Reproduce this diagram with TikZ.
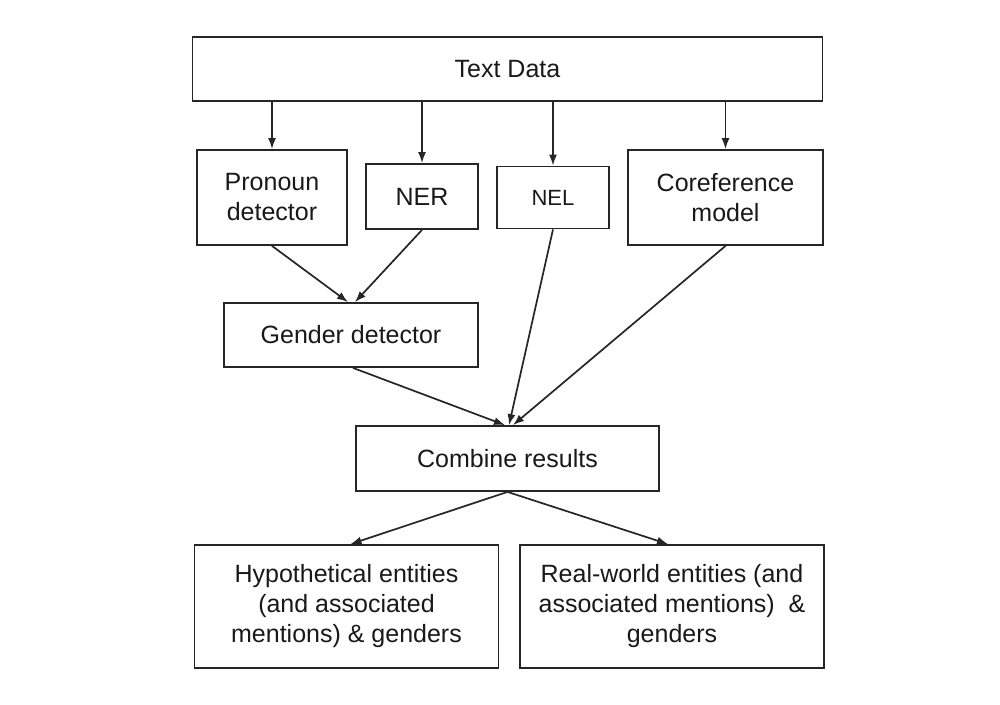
\documentclass[tikz,border=0pt]{standalone}
\usepackage{fontspec}
\setmainfont{Liberation Sans}
\usetikzlibrary{arrows.meta}
\begin{document}
\begin{tikzpicture}[x=1pt,y=-1pt,
  box/.style={draw=black!85,line width=1.8pt,rectangle,inner sep=0pt,align=center,
    font=\fontsize{25}{30}\selectfont,text=black!90},
  conn/.style={draw=black!85,line width=1.7pt,-{Latex[length=11pt,width=8pt]}}]
\useasboundingbox[fill=white] (0,0) rectangle (1000,704);
\node[box,minimum width=630pt,minimum height=64pt] (text) at (507.5,69) {Text Data};
\node[box,minimum width=150pt,minimum height=95pt] (pron) at (272,197.5) {Pronoun\\detector};
\node[box,minimum width=112pt,minimum height=65pt] (ner) at (422,196.5) {NER};
\node[box,minimum width=112pt,minimum height=62pt,font=\fontsize{22}{26}\selectfont] (nel) at (553,197.5) {NEL};
\node[box,minimum width=195pt,minimum height=95pt] (coref) at (725.5,197.5) {Coreference\\model};
\node[box,minimum width=254pt,minimum height=64pt] (gender) at (351,335) {Gender detector};
\node[box,minimum width=303pt,minimum height=65pt] (comb) at (507.5,458.5) {Combine results};
\node[box,minimum width=304pt,minimum height=123pt] (hyp) at (346.5,606.5) {Hypothetical entities\\(and associated\\mentions) \& genders};
\node[box,minimum width=304pt,minimum height=123pt] (real) at (672,606.5) {Real-world entities (and\\associated mentions)~ \&\\genders};
\draw[conn] (pron.north |- text.south) -- (pron.north);
\draw[conn] (ner.north |- text.south) -- (ner.north);
\draw[conn] (nel.north |- text.south) -- (nel.north);
\draw[conn] (coref.north |- text.south) -- (coref.north);
\draw[conn] (pron.south) -- ([xshift=-3pt]gender.north);
\draw[conn] (ner.south) -- ([xshift=4pt]gender.north);
\draw[conn] ([xshift=2pt]gender.south) -- ([xshift=-2.5pt]comb.north);
\draw[conn] (nel.south) -- ([xshift=1.5pt]comb.north);
\draw[conn] (coref.south) -- ([xshift=5.5pt]comb.north);
\draw[conn] (comb.south) -- ([xshift=4pt]hyp.north);
\draw[conn] (comb.south) -- ([xshift=-4pt]real.north);
\end{tikzpicture}
\end{document}
